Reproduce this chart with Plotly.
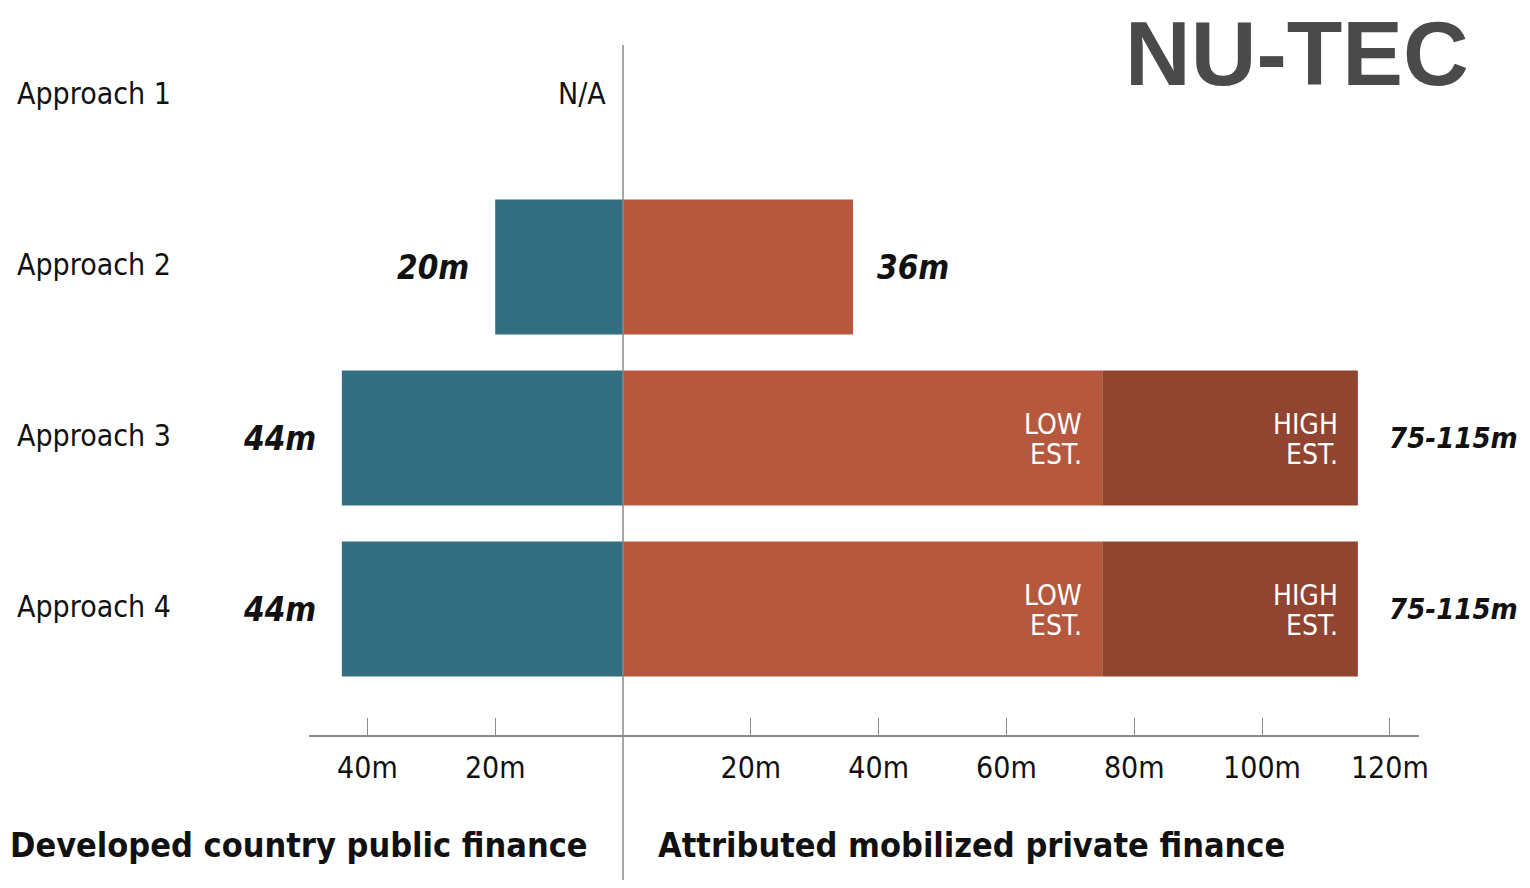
import plotly.graph_objects as go

# ---- data ----
approaches = ["Approach 1", "Approach 2", "Approach 3", "Approach 4"]
public_finance = [None, 20, 44, 44]          # developed country public finance (m)
private_low = [None, 36, 75, 75]             # attributed mobilized private finance, low est. (m)
private_high = [None, 36, 115, 115]          # high est. (m)
public_labels = ["N/A", "20m", "44m", "44m"]
private_labels = ["", "36m", "75-115m", "75-115m"]
tick_values = [-40, -20, 20, 40, 60, 80, 100, 120]
tick_labels = ["40m", "20m", "20m", "40m", "60m", "80m", "100m", "120m"]

TEAL = "#336f80"
ORANGE = "#b5583e"
DARK = "#91442f"
GREY = "#8a8a8a"
COND = "DejaVu Sans Condensed, DejaVu Sans, sans-serif"

# page offset / horizontal scale seen in the rendered screenshot
OFF = 8
K = 0.991
W, H = 1530, 888 - 2 * OFF


def px(X):
    return (X / K - OFF) / W


def py(Y):
    return 1 - (Y - OFF) / H


fig = go.Figure()

pub_neg = [(-v if v is not None else None) for v in public_finance]
high_extra = [(h - l) if (h is not None and l is not None and h > l) else None
              for l, h in zip(private_low, private_high)]

fig.add_trace(go.Bar(y=approaches, x=pub_neg, orientation="h", marker_color=TEAL,
                     marker_line_width=0, width=0.79, hoverinfo="skip"))
fig.add_trace(go.Bar(y=approaches, x=private_low, orientation="h", marker_color=ORANGE,
                     marker_line_width=0, width=0.79, hoverinfo="skip"))
fig.add_trace(go.Bar(y=approaches, x=high_extra, base=private_low, orientation="h",
                     marker_color=DARK, marker_line_width=0, width=0.79, hoverinfo="skip"))

# geometry (reference pixel coordinates)
x_left, x_right = 308, 1415
zero_px = 621
scale = 6.37
xr = [-(zero_px - x_left) / scale, (x_right - zero_px) / scale]
axis_px = 735
row0_px, row_step = 96, 171
yr = [(axis_px - row0_px) / row_step, (OFF - row0_px) / row_step]

fig.update_layout(
    width=W, height=H, margin=dict(l=0, r=0, t=0, b=0),
    paper_bgcolor="white", plot_bgcolor="white",
    barmode="overlay", showlegend=False,
    xaxis=dict(domain=[px(x_left), px(x_right)], range=xr, showgrid=False, zeroline=False,
               showline=True, linecolor=GREY, linewidth=1.5,
               ticks="inside", ticklen=17, tickwidth=1.2, tickcolor=GREY,
               tickvals=tick_values, ticktext=tick_labels, ticklabelstandoff=5,
               tickfont=dict(family=COND, size=30, color="#111")),
    yaxis=dict(domain=[py(axis_px), 1], range=yr, showgrid=False, zeroline=False,
               showticklabels=False, showline=False, ticks=""),
)

# zero line
fig.add_shape(type="line", xref="x", yref="paper", x0=0, x1=0, y0=0, y1=py(45),
              line=dict(color=GREY, width=1.5), layer="above")

# approach labels
for a in approaches:
    fig.add_annotation(x=px(15), xref="paper", y=a, yref="y", text=a, showarrow=False,
                       xanchor="left", yanchor="middle", yshift=3,
                       font=dict(family=COND, size=30, color="#111"))

# public labels
for a, v, t in zip(approaches, public_finance, public_labels):
    if v is None:
        fig.add_annotation(x=0, y=a, text=t, showarrow=False, xanchor="right", xshift=-15,
                           yshift=3, font=dict(family=COND, size=30, color="#111"))
    else:
        fig.add_annotation(x=-v, y=a, text=f"<b><i>{t}</i></b>", showarrow=False,
                           xanchor="right", xshift=-24,
                           font=dict(family=COND, size=33, color="#111"))

# private labels
for a, lo, hi, t in zip(approaches, private_low, private_high, private_labels):
    if hi is None:
        continue
    ranged = hi != lo
    fig.add_annotation(x=hi, y=a, text=f"<b><i>{t}</i></b>", showarrow=False,
                       xanchor="left", xshift=29 if ranged else 22,
                       font=dict(family=COND, size=29 if ranged else 33, color="#111"))
    if ranged:
        for xv, word in ((lo, "LOW"), (hi, "HIGH")):
            fig.add_annotation(x=xv, y=a, text=word, showarrow=False, xanchor="right",
                               yanchor="middle", xshift=-18, yshift=14,
                               font=dict(family=COND, size=28, color="white"))
            fig.add_annotation(x=xv, y=a, text="EST.", showarrow=False, xanchor="right",
                               yanchor="middle", xshift=-18, yshift=-16,
                               font=dict(family=COND, size=28, color="white"))

# bottom captions
fig.add_annotation(x=px(8), y=py(845), xref="paper", yref="paper",
                   text="<b>Developed country public finance</b>", showarrow=False,
                   xanchor="left", yanchor="middle",
                   font=dict(family=COND, size=34, color="#111"))
fig.add_annotation(x=px(654), y=py(845), xref="paper", yref="paper",
                   text="<b>Attributed mobilized private finance</b>", showarrow=False,
                   xanchor="left", yanchor="middle",
                   font=dict(family=COND, size=34, color="#111"))

# logo
fig.add_annotation(x=px(1466), y=py(53), xref="paper", yref="paper",
                   text="<b>NU-TEC</b>", showarrow=False, xanchor="right", yanchor="middle",
                   font=dict(family="Liberation Sans, Arial, sans-serif", size=91, color="#4a4a4a"))

fig.write_html("out.html")
